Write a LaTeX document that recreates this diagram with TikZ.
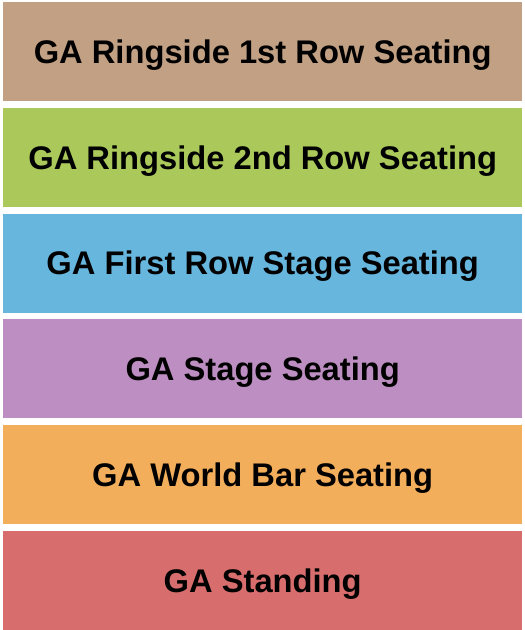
\documentclass[tikz,border=0pt]{standalone}
\usepackage{fontspec}
\setmainfont{Liberation Sans}
\usetikzlibrary{positioning}
\definecolor{ringOne}{RGB}{193,160,131}
\definecolor{ringTwo}{RGB}{170,201,90}
\definecolor{firstRow}{RGB}{102,182,222}
\definecolor{stageSeat}{RGB}{189,142,193}
\definecolor{worldBar}{RGB}{243,174,92}
\definecolor{standing}{RGB}{215,109,109}
\tikzstyle{band} = [rectangle, inner sep=0, minimum width=519pt, minimum height=99pt,
   text depth=0pt, font=\fontsize{32.7pt}{36pt}\selectfont\bfseries]

\begin{document}
\begin{tikzpicture}[node distance=6.3pt]
 				 \useasboundingbox (0,0) rectangle (525pt,-630pt);
 				 \node[band, fill = ringOne, anchor=north west] (r1) at (3pt,-2pt) {GA Ringside 1st Row Seating};
 				 \node[band, fill = ringTwo, below= of r1] (r2) {GA Ringside 2nd Row Seating};
 				 \node[band, fill = firstRow, below= of r2] (fr) {GA First Row Stage Seating};
 				 \node[band, fill = stageSeat, below= of fr] (st) {GA Stage Seating};
 				 \node[band, fill = worldBar, below= of st] (wb) {GA World Bar Seating};
 				 \node[band, fill = standing, below= of wb] (sd) {GA Standing};
			\end{tikzpicture}
\end{document}
